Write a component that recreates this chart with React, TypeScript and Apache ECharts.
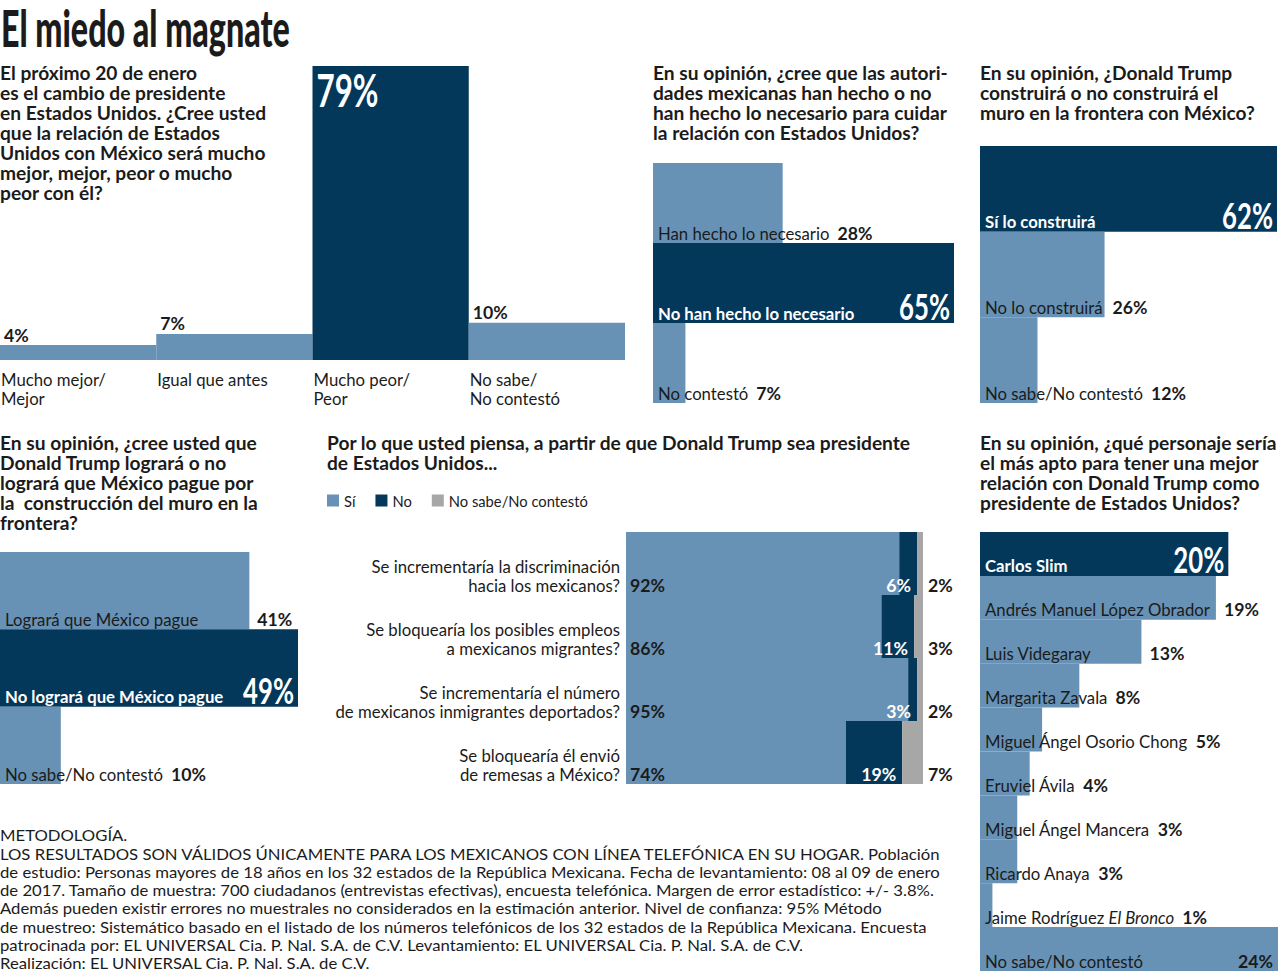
import React, { useEffect, useRef } from "react";
import * as echarts from "echarts";

// ---------------- data ----------------
const title = "El miedo al magnate";

const q1Question = [
  "El próximo 20 de enero",
  "es el cambio de presidente",
  "en Estados Unidos. ¿Cree usted",
  "que la relación de Estados",
  "Unidos con México será mucho",
  "mejor, mejor, peor o mucho",
  "peor con él?",
];
const q1Categories = ["Mucho mejor/\nMejor", "Igual que antes", "Mucho peor/\nPeor", "No sabe/\nNo contestó"];
const q1Values = [4, 7, 79, 10];
const q1Highlight = 2;

const q2Question = [
  "En su opinión, ¿cree que las autori-",
  "dades mexicanas han hecho o no",
  "han hecho lo necesario para cuidar",
  "la relación con Estados Unidos?",
];
const q2Categories = ["Han hecho lo necesario", "No han hecho lo necesario", "No contestó"];
const q2Values = [28, 65, 7];
const q2Highlight = 1;

const q3Question = [
  "En su opinión, ¿Donald Trump",
  "construirá o no construirá el",
  "muro en la frontera con México?",
];
const q3Categories = ["Sí lo construirá", "No lo construirá", "No sabe/No contestó"];
const q3Values = [62, 26, 12];
const q3Highlight = 0;

const q4Question = [
  "En su opinión, ¿cree usted que",
  "Donald Trump logrará o no",
  "logrará que México pague por",
  "la  construcción del muro en la",
  "frontera?",
];
const q4Categories = ["Logrará que México pague", "No logrará que México pague", "No sabe/No contestó"];
const q4Values = [41, 49, 10];
const q4Highlight = 1;

const q5Question = [
  "Por lo que usted piensa, a partir de que Donald Trump sea presidente",
  "de Estados Unidos...",
];
const q5Legend = ["Sí", "No", "No sabe/No contestó"];
const q5Categories = [
  "Se incrementaría la discriminación\nhacia los mexicanos?",
  "Se bloquearía los posibles empleos\na mexicanos migrantes?",
  "Se incrementaría el número\nde mexicanos inmigrantes deportados?",
  "Se bloquearía él envió\nde remesas a México?",
];
const q5Si = [92, 86, 95, 74];
const q5No = [6, 11, 3, 19];
const q5NS = [2, 3, 2, 7];

const q6Question = [
  "En su opinión, ¿qué personaje sería",
  "el más apto para tener una mejor",
  "relación con Donald Trump como",
  "presidente de Estados Unidos?",
];
const q6Categories = [
  "Carlos Slim",
  "Andrés Manuel López Obrador",
  "Luis Videgaray",
  "Margarita Zavala",
  "Miguel Ángel Osorio Chong",
  "Eruviel Ávila",
  "Miguel Ángel Mancera",
  "Ricardo Anaya",
  "Jaime Rodríguez El Bronco",
  "No sabe/No contestó",
];
const q6Values = [20, 19, 13, 8, 5, 4, 3, 3, 1, 24];
const q6Highlight = 0;
const italicPart = "El Bronco";

const methodology = [
  "METODOLOGÍA.",
  "LOS RESULTADOS SON VÁLIDOS ÚNICAMENTE PARA LOS MEXICANOS CON LÍNEA TELEFÓNICA EN SU HOGAR. Población",
  "de estudio: Personas mayores de 18 años en los 32 estados de la República Mexicana. Fecha de levantamiento: 08 al 09 de enero",
  "de 2017. Tamaño de muestra: 700 ciudadanos (entrevistas efectivas), encuesta telefónica. Margen de error estadístico: +/- 3.8%.",
  "Además pueden existir errores no muestrales no considerados en la estimación anterior. Nivel de confianza: 95% Método",
  "de muestreo: Sistemático basado en el listado de los números telefónicos de los 32 estados de la República Mexicana. Encuesta",
  "patrocinada por: EL UNIVERSAL Cia. P. Nal. S.A. de C.V. Levantamiento: EL UNIVERSAL Cia. P. Nal. S.A. de C.V.",
  "Realización: EL UNIVERSAL Cia. P. Nal. S.A. de C.V.",
];

// ---------------- style ----------------
const LIGHT = "#6792b6";
const DARK = "#03385b";
const GREY = "#a7a7a7";
const INK = "#1b1b1b";
const FONT = "Lato, 'Open Sans', 'Noto Sans', sans-serif";

let ctx: CanvasRenderingContext2D | null = null;
function tw(text: string, size: number, weight = "normal", family = FONT, style = "normal") {
  if (!ctx) ctx = document.createElement("canvas").getContext("2d");
  ctx!.font = `${style} ${weight} ${size}px ${family}`;
  return ctx!.measureText(text).width;
}

const grids = [
  { left: 0, top: 66, width: 625, height: 294 },
  { left: 653, top: 163, width: 301, height: 240 },
  { left: 980, top: 146, width: 297, height: 257 },
  { left: 0, top: 552, width: 298, height: 232 },
  { left: 626, top: 532, width: 297, height: 252 },
  { left: 980, top: 532, width: 298, height: 439 },
];

function buildOption() {
  const NAME_SIZE = (16 * 225) / tw("Andrés Manuel López Obrador", 16);
  const VAL_SIZE = (17 * 35) / tw("28%", 17, "bold");
  const LEG_SIZE = (15 * 139) / tw("No sabe/No contestó", 15);
  const qScale = 585 / tw(q5Question[0], 18, "bold");
  const TITLE_SIZE = 51;
  const titleScale = 289 / tw(title, TITLE_SIZE, "900");
  const methScale = 940 / tw(methodology[2], 15);

  const richName = (n: string) => (n.includes(italicPart) ? n.replace(italicPart, `{i|${italicPart}}`) : n);
  const nameWidth = (n: string) => {
    if (n.includes(italicPart)) {
      const rest = n.replace(italicPart, "");
      return tw(rest, NAME_SIZE) + tw(italicPart, NAME_SIZE, "normal", FONT, "italic");
    }
    return tw(n, NAME_SIZE);
  };

  const stepped = (key: string, gi: number, cats: string[], vals: number[], hi: number) => {
    const max = Math.max(...vals);
    const gridW = grids[gi].width;
    const main: any = {
      name: key,
      type: "bar",
      xAxisIndex: gi,
      yAxisIndex: gi,
      barWidth: "100%",
      barGap: "-100%",
      silent: true,
      data: vals.map((v, i) => ({
        value: v,
        itemStyle: { color: i === hi ? DARK : LIGHT },
        label: i === hi ? { color: "#fff", fontWeight: "bold" } : undefined,
      })),
      label: {
        show: true,
        position: [5, "100%"],
        align: "left",
        verticalAlign: "bottom",
        lineHeight: 20,
        fontFamily: FONT,
        fontSize: NAME_SIZE,
        color: INK,
        formatter: (p: any) => richName(cats[p.dataIndex]),
        rich: { i: { fontStyle: "italic", fontFamily: FONT, fontSize: NAME_SIZE, color: INK, lineHeight: 20 } },
      },
    };
    const over: any = {
      name: key + "-v",
      type: "bar",
      xAxisIndex: gi,
      yAxisIndex: gi,
      barWidth: "100%",
      barGap: "-100%",
      silent: true,
      itemStyle: { color: "rgba(0,0,0,0)" },
      data: vals.map((v, i) => {
        if (i === hi) return { value: v, label: { show: false } };
        const barPx = (v / max) * gridW;
        const x = Math.max(5 + nameWidth(cats[i]), barPx) + 8;
        const vw = tw(v + "%", VAL_SIZE, "bold");
        if (x + vw > gridW) {
          return { value: v, label: { position: ["100%", "100%"], align: "right", offset: [-5, 0] } };
        }
        return { value: v, label: { position: [x, "100%"], align: "left" } };
      }),
      label: {
        show: true,
        verticalAlign: "bottom",
        lineHeight: 20,
        fontFamily: FONT,
        fontSize: VAL_SIZE,
        fontWeight: "bold",
        color: INK,
        formatter: "{c}%",
      },
    };
    return [main, over];
  };

  const q1Series: any[] = [
    {
      name: "q1",
      type: "bar",
      xAxisIndex: 0,
      yAxisIndex: 0,
      barWidth: "100%",
      barGap: "-100%",
      silent: true,
      data: q1Values.map((v, i) =>
        i === q1Highlight
          ? { value: v, itemStyle: { color: DARK }, label: { show: false } }
          : { value: v, itemStyle: { color: LIGHT } }
      ),
      label: {
        show: true,
        position: [4, 0],
        align: "left",
        verticalAlign: "bottom",
        lineHeight: 20,
        fontFamily: FONT,
        fontSize: VAL_SIZE,
        fontWeight: "bold",
        color: INK,
        formatter: "{c}%",
      },
    },
    {
      name: "q1-cat",
      type: "bar",
      xAxisIndex: 0,
      yAxisIndex: 0,
      barWidth: "100%",
      barGap: "-100%",
      silent: true,
      itemStyle: { color: "rgba(0,0,0,0)" },
      data: q1Values,
      label: {
        show: true,
        position: [1, "100%"],
        align: "left",
        verticalAlign: "top",
        offset: [0, 9.5],
        lineHeight: 19,
        fontFamily: FONT,
        fontSize: NAME_SIZE,
        color: INK,
        formatter: (p: any) => q1Categories[p.dataIndex],
      },
    },
  ];

  const stackLabel = {
    show: true,
    verticalAlign: "bottom",
    lineHeight: 20,
    fontFamily: FONT,
    fontWeight: "bold",
    fontSize: VAL_SIZE,
    formatter: "{c}%",
  };
  const stackBase = {
    type: "bar",
    stack: "q5",
    xAxisIndex: 4,
    yAxisIndex: 4,
    barWidth: "100%",
    barGap: "-100%",
    silent: true,
  };
  const q5Series: any[] = [
    {
      ...stackBase,
      name: q5Legend[0],
      itemStyle: { color: LIGHT },
      data: q5Si,
      label: { ...stackLabel, position: [4, "100%"], align: "left", color: INK },
    },
    {
      ...stackBase,
      name: q5Legend[1],
      itemStyle: { color: DARK },
      data: q5No,
      label: { ...stackLabel, position: ["100%", "100%"], align: "right", offset: [-6, 0], color: "#fff" },
    },
    {
      ...stackBase,
      name: q5Legend[2],
      itemStyle: { color: GREY },
      data: q5NS,
      label: { ...stackLabel, position: ["100%", "100%"], align: "left", offset: [5, 0], color: INK },
    },
    {
      name: "q5-cat",
      type: "bar",
      xAxisIndex: 4,
      yAxisIndex: 4,
      barWidth: "100%",
      barGap: "-100%",
      silent: true,
      itemStyle: { color: "rgba(0,0,0,0)" },
      data: q5Si,
      label: {
        show: true,
        position: [-6, "100%"],
        align: "right",
        verticalAlign: "bottom",
        offset: [0, -0.5],
        lineHeight: 19,
        fontFamily: FONT,
        fontSize: NAME_SIZE,
        color: INK,
        formatter: (p: any) => q5Categories[p.dataIndex],
      },
    },
  ];

  const catY = (gi: number, data: string[]) => ({ gridIndex: gi, type: "category", data, inverse: true, show: false });
  const valX = (gi: number, max: number) => ({ gridIndex: gi, type: "value", min: 0, max, show: false });

  const questions = [
    { lines: q1Question, x: 0, y: 63 },
    { lines: q2Question, x: 653, y: 63 },
    { lines: q3Question, x: 980, y: 63 },
    { lines: q4Question, x: 0, y: 433 },
    { lines: q5Question, x: 327, y: 433 },
    { lines: q6Question, x: 980, y: 433 },
  ];

  return {
    animation: false,
    backgroundColor: "#fff",
    grid: grids,
    xAxis: [
      { gridIndex: 0, type: "category", data: q1Categories, show: false },
      valX(1, Math.max(...q2Values)),
      valX(2, Math.max(...q3Values)),
      valX(3, Math.max(...q4Values)),
      valX(4, 100),
      valX(5, Math.max(...q6Values)),
    ],
    yAxis: [
      { gridIndex: 0, type: "value", min: 0, max: Math.max(...q1Values), show: false },
      catY(1, q2Categories),
      catY(2, q3Categories),
      catY(3, q4Categories),
      catY(4, q5Categories),
      catY(5, q6Categories),
    ],
    legend: {
      left: 327,
      top: 493,
      padding: 0,
      itemWidth: 12,
      itemHeight: 12,
      itemGap: 20,
      icon: "rect",
      selectedMode: false,
      data: q5Legend,
      textStyle: { fontFamily: FONT, fontSize: LEG_SIZE, color: INK },
    },
    series: [
      ...q1Series,
      ...stepped("q2", 1, q2Categories, q2Values, q2Highlight),
      ...stepped("q3", 2, q3Categories, q3Values, q3Highlight),
      ...stepped("q4", 3, q4Categories, q4Values, q4Highlight),
      ...q5Series,
      ...stepped("q6", 5, q6Categories, q6Values, q6Highlight),
    ],
    graphic: [
      {
        type: "text",
        x: 1,
        y: 27,
        scaleX: titleScale,
        style: {
          text: title,
          fontFamily: FONT,
          fontWeight: "900",
          fontSize: TITLE_SIZE,
          lineHeight: 44,
          fill: INK,
          verticalAlign: "middle",
        },
      },
      ...questions.map((q) => ({
        type: "text",
        x: q.x,
        y: q.y,
        scaleX: qScale,
        style: {
          text: q.lines.join("\n"),
          fontFamily: FONT,
          fontWeight: "bold",
          fontSize: 18,
          lineHeight: 20,
          fill: INK,
          verticalAlign: "top",
        },
      })),
      {
        type: "text",
        x: 0,
        y: 826,
        scaleX: methScale,
        style: {
          text: methodology.join("\n"),
          fontFamily: FONT,
          fontSize: 15,
          lineHeight: 18.3,
          fill: INK,
          verticalAlign: "top",
        },
      },
    ],
  };
}

// Large condensed percentages inside the highlighted bars, placed through the axes' scales.
function bigNumbers(chart: any) {
  const els: any[] = [];
  const size = 37;
  const s = 51 / tw("65%", size, "bold");
  const addH = (gi: number, vals: number[], hi: number) => {
    const p0 = chart.convertToPixel({ gridIndex: gi }, [vals[hi], hi]);
    const p1 = chart.convertToPixel({ gridIndex: gi }, [vals[hi], hi + 1]);
    const band = Math.abs(p1[1] - p0[1]);
    const bottom = p0[1] + band / 2;
    els.push({
      type: "text",
      x: p0[0] - 4,
      y: bottom - 17,
      scaleX: s,
      z: 100,
      silent: true,
      style: { text: vals[hi] + "%", fontFamily: FONT, fontWeight: "bold", fontSize: size, fill: "#fff", align: "right", verticalAlign: "middle" },
    });
  };
  addH(1, q2Values, q2Highlight);
  addH(2, q3Values, q3Highlight);
  addH(3, q4Values, q4Highlight);
  addH(5, q6Values, q6Highlight);

  const v = q1Values[q1Highlight];
  const c0 = chart.convertToPixel({ gridIndex: 0 }, [q1Highlight, v]);
  const c1 = chart.convertToPixel({ gridIndex: 0 }, [q1Highlight + 1, v]);
  const bandW = Math.abs(c1[0] - c0[0]);
  const bigSize = 46;
  const s79 = 62 / tw(v + "%", bigSize, "bold");
  els.push({
    type: "text",
    x: c0[0] - bandW / 2 + 4,
    y: c0[1] + 22.5,
    scaleX: s79,
    z: 100,
    silent: true,
    style: { text: v + "%", fontFamily: FONT, fontWeight: "bold", fontSize: bigSize, fill: "#fff", align: "left", verticalAlign: "middle" },
  });
  return els;
}

export default function App() {
  const ref = useRef<HTMLDivElement>(null);
  useEffect(() => {
    const chart = echarts.init(ref.current!, undefined, { renderer: "svg" });
    const opt: any = buildOption();
    chart.setOption(opt);
    chart.setOption({ graphic: [...opt.graphic, ...bigNumbers(chart)] });
    return () => chart.dispose();
  }, []);
  return (
    <div
      ref={ref}
      style={{ position: "absolute", left: 0, top: 0, width: 1280, height: 974, background: "#fff" }}
    />
  );
}
